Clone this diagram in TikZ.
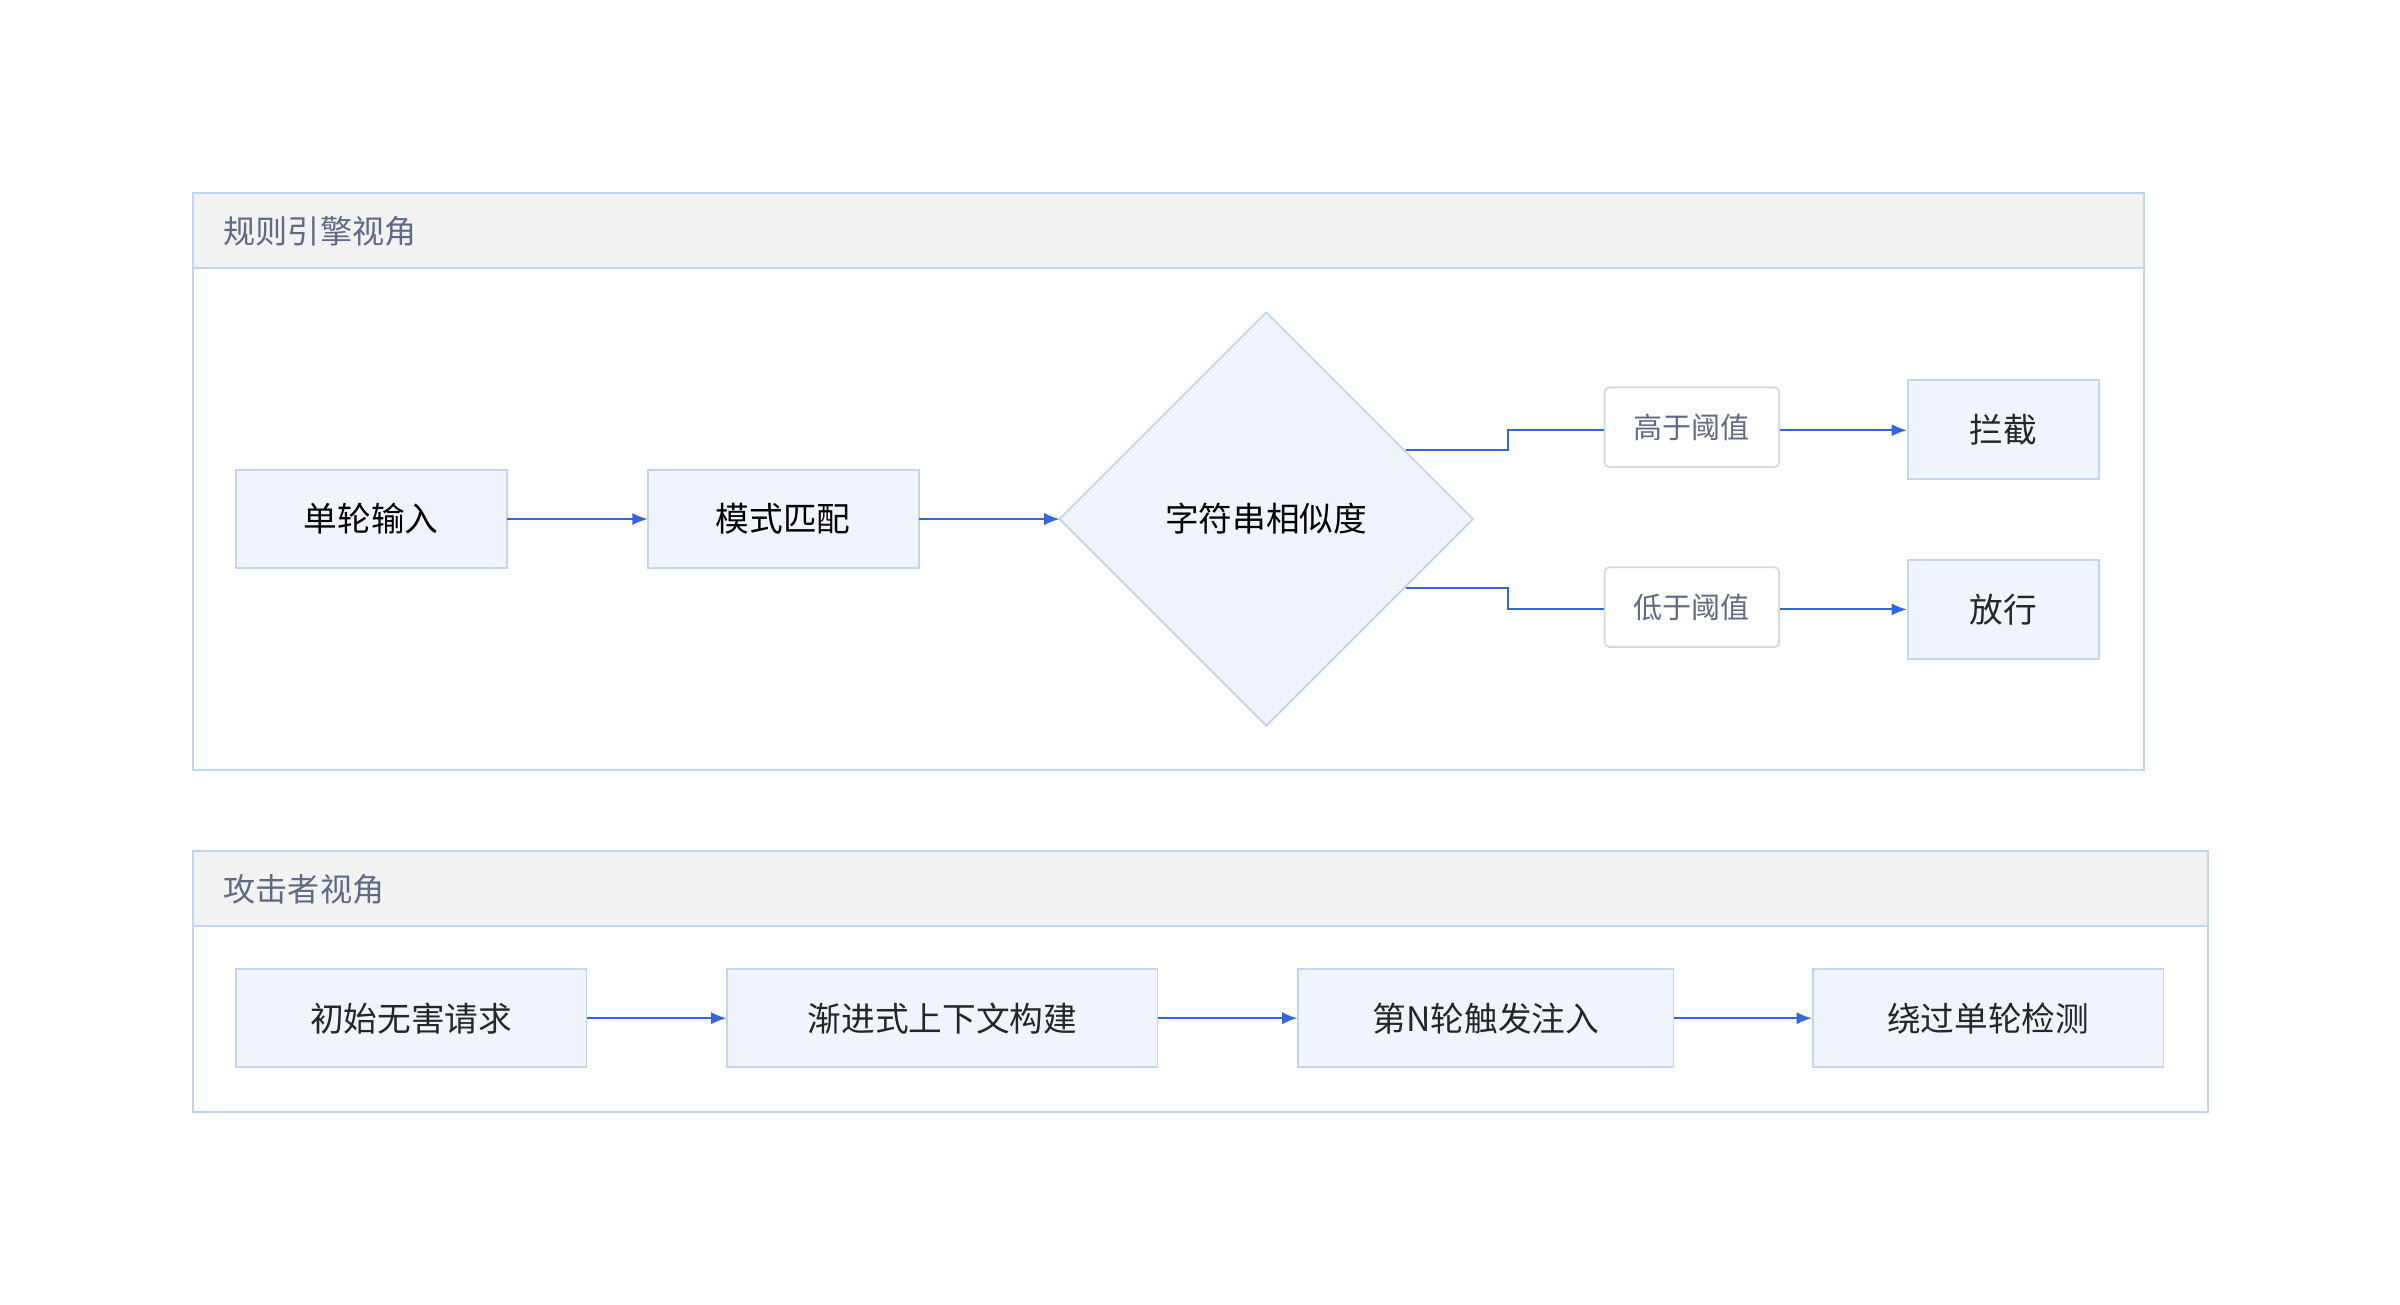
\documentclass[tikz,border=0pt]{standalone}
\usepackage{fontspec}
\newfontfamily\cjk{Noto Sans CJK SC}
\usetikzlibrary{arrows.meta,shapes.geometric}
\definecolor{nfill}{HTML}{EFF4FD}
\definecolor{nbord}{HTML}{C3D4EE}
\definecolor{arr}{HTML}{3366DD}
\definecolor{hdr}{HTML}{F2F2F2}
\definecolor{ttl}{HTML}{5F6B85}
\definecolor{lbord}{HTML}{D9D9D9}
\begin{document}
\begin{tikzpicture}[x=0.5pt,y=-0.5pt,font=\cjk,
 box/.style={draw=nbord,fill=nfill,line width=0.6pt,font=\cjk\fontsize{11}{13}\selectfont,text=black!85},
 lab/.style={draw=lbord,fill=white,rounded corners=1.5pt,line width=0.6pt,font=\cjk\fontsize{9.5}{11}\selectfont,text=ttl},
 ar/.style={draw=arr,line width=0.6pt,-{Latex[length=5pt,width=4pt]}},
 ln/.style={draw=arr,line width=0.6pt},
 grp/.style={draw=nbord,line width=0.7pt},
 gt/.style={font=\cjk\fontsize{10.5}{12}\selectfont,text=ttl,anchor=west}]
\useasboundingbox (0,0) rectangle (1567.5,851.7);
% group 1
\filldraw[grp,fill=hdr] (126,126) rectangle (1400,175);
\draw[grp] (126,126) rectangle (1400,503);
\node[gt] (t1) at (139,151) {规则引擎视角};
\path[box] (154,307) rectangle (331,371);
\node[font=\cjk\fontsize{11}{13}\selectfont] (a) at (242.5,339) {单轮输入};
\coordinate (aE) at (331,339);
\path[box] (423,307) rectangle (600,371);
\node[font=\cjk\fontsize{11}{13}\selectfont] (b) at (511.5,339) {模式匹配};
\coordinate (bW) at (423,339); \coordinate (bE) at (600,339);
\draw[box] (827,204) -- (962,339) -- (827,474) -- (692,339) -- cycle;
\node[font=\cjk\fontsize{11}{13}\selectfont] (c) at (827,339) {字符串相似度};
\coordinate (cW) at (692,339);
\coordinate (cu) at (918,294); \coordinate (cd) at (918,384);
\node[lab,minimum width=57pt,minimum height=26pt] (h) at (1105,279) {高于阈值};
\node[lab,minimum width=57pt,minimum height=26pt] (l) at (1105,396.5) {低于阈值};
\node[box,minimum width=62.5pt,minimum height=32.5pt] (x) at (1308.5,280.5) {拦截};
\node[box,minimum width=62.5pt,minimum height=32.5pt] (y) at (1308.5,398) {放行};
\draw[ar] (aE) -- (bW);
\draw[ar] (bE) -- (cW);
\draw[ln] (cu) -- (985,294) -- (985,281) -- (h.west|-0,281);
\draw[ln] (cd) -- (985,384) -- (985,398) -- (l.west|-0,398);
\draw[ar] (h.east|-0,281) -- (x.west|-0,281);
\draw[ar] (l.east|-0,398) -- (y.west|-0,398);
% group 2
\filldraw[grp,fill=hdr] (126,556) rectangle (1442,605);
\draw[grp] (126,556) rectangle (1442,726);
\node[gt] (t2) at (139,581) {攻击者视角};
\node[box,minimum width=114.5pt,minimum height=32pt] (p) at (268.5,665) {初始无害请求};
\node[box,minimum width=140.5pt,minimum height=32pt] (q) at (615.5,665) {渐进式上下文构建};
\node[box,minimum width=122.5pt,minimum height=32pt] (r) at (970.5,665) {第N轮触发注入};
\node[box,minimum width=114.5pt,minimum height=32pt] (s) at (1298.5,665) {绕过单轮检测};
\draw[ar] (p) -- (q);
\draw[ar] (q) -- (r);
\draw[ar] (r) -- (s);
\end{tikzpicture}
\end{document}
